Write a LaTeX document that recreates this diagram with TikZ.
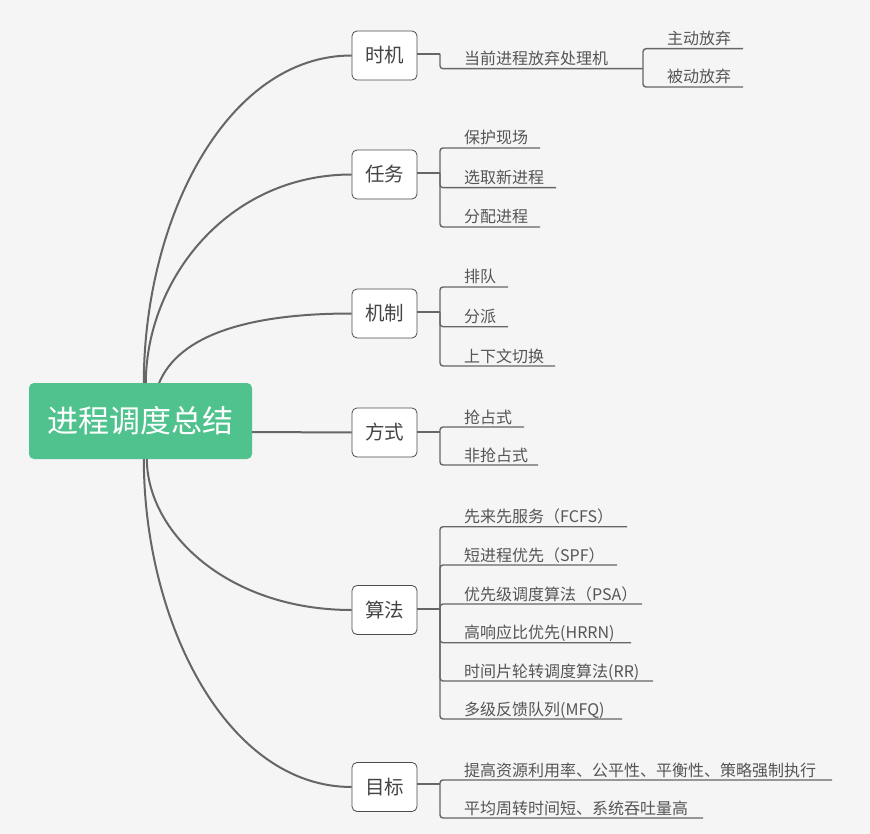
\documentclass[tikz,border=0pt]{standalone}
\usepackage{fontspec}
\setmainfont{Noto Sans CJK SC}
\usetikzlibrary{calc}
\definecolor{bgc}{HTML}{F5F5F5}
\definecolor{ln}{HTML}{666666}
\definecolor{rootg}{HTML}{50C28D}
\definecolor{txt}{HTML}{555555}
\definecolor{btxt}{HTML}{444444}
\pgfdeclarelayer{back}
\pgfsetlayers{back,main}
\begin{document}
\begin{tikzpicture}[x=1pt,y=-1pt,
  rootbox/.style={fill=rootg, rounded corners=5pt, minimum width=223pt, minimum height=76pt, text=white, font=\fontsize{31}{36}\selectfont, inner sep=0pt},
  branchbox/.style={draw=black!70, fill=white, rounded corners=5pt, minimum width=65pt, minimum height=49pt, font=\fontsize{19.5}{22}\selectfont, text=btxt, inner sep=0pt, line width=0.8pt},
  leaf/.style={anchor=base west, font=\fontsize{16}{19}\selectfont, text=txt, inner sep=0pt},
  curve/.style={draw=ln, line width=2pt},
  stub/.style={draw=ln, line width=2pt},
  lline/.style={draw=ln, line width=1.4pt, rounded corners=3pt},
]
\useasboundingbox (0,0) rectangle (870,834);

% root and branches
\node[rootbox] (root) at (140.5,421) {进程调度总结};
\node[branchbox] (b1) at (384.5,55.5) {时机};
\node[branchbox] (b2) at (384.5,174.5) {任务};
\node[branchbox] (b3) at (384.5,313.5) {机制};
\node[branchbox] (b4) at (384.5,432.5) {方式};
\node[branchbox] (b5) at (384.5,610) {算法};
\node[branchbox] (b6) at (384.5,787) {目标};

% leaf texts
\node[leaf] (t11) at (464,64.7) {当前进程放弃处理机};
\node[leaf] (t111) at (667,44.7) {主动放弃};
\node[leaf] (t112) at (667,83) {被动放弃};

\node[leaf] (t21) at (464,144) {保护现场};
\node[leaf] (t22) at (464,183.7) {选取新进程};
\node[leaf] (t23) at (464,223) {分配进程};

\node[leaf] (t31) at (464,283) {排队};
\node[leaf] (t32) at (464,322.7) {分派};
\node[leaf] (t33) at (464,362) {上下文切换};

\node[leaf] (t41) at (464,423) {抢占式};
\node[leaf] (t42) at (464,461) {非抢占式};

\node[leaf] (t51) at (464,522.7) {先来先服务（FCFS）};
\node[leaf] (t52) at (464,561) {短进程优先（SPF）};
\node[leaf] (t53) at (464,600) {优先级调度算法（PSA）};
\node[leaf] (t54) at (464,638.7) {高响应比优先(HRRN)};
\node[leaf] (t55) at (464,677) {时间片轮转调度算法(RR)};
\node[leaf] (t56) at (464,715) {多级反馈队列(MFQ)};

\node[leaf] (t61) at (464,776) {提高资源利用率、公平性、平衡性、策略强制执行};
\node[leaf] (t62) at (464,814) {平均周转时间短、系统吞吐量高};

% coordinates
\coordinate (s1) at ($(root.north west)+(115,1)$);
\coordinate (s2) at ($(root.north west)+(117,1)$);
\coordinate (s3) at ($(root.north west)+(130,1)$);
\coordinate (s4) at ($(root.east)+(-1,11)$);
\coordinate (s5) at ($(root.south west)+(118,-1)$);
\coordinate (s6) at ($(root.south west)+(115,-1)$);

\coordinate (j1) at (440,53.7);
\coordinate (j2) at (440,173);
\coordinate (j3) at (440,311.7);
\coordinate (j4) at (440,431.7);
\coordinate (j5) at (440,608.7);
\coordinate (j6) at (440,784);

\coordinate (e11) at (643,68.7);
\coordinate (e111) at (743,48.7);
\coordinate (e112) at (743,87);
\coordinate (e21) at (540,148);
\coordinate (e22) at (556,187.7);
\coordinate (e23) at (540,227);
\coordinate (e31) at (508,287);
\coordinate (e32) at (508,326.7);
\coordinate (e33) at (555,366);
\coordinate (e41) at (524,427);
\coordinate (e42) at (538,465);
\coordinate (e51) at (627,526.7);
\coordinate (e52) at (617,565);
\coordinate (e53) at (642,604);
\coordinate (e54) at (631,642.7);
\coordinate (e55) at (653,681);
\coordinate (e56) at (622,719);
\coordinate (e61) at (832,780);
\coordinate (e62) at (703,818);

\begin{pgfonlayer}{back}
\fill[bgc] (0,0) rectangle (870,834);
% main curves
\draw[curve] (s1) .. controls +(0,-165) and +(-125,0) .. (b1.west);
\draw[curve] (s2) .. controls +(0,-104) and +(-124,0) .. (b2.west);
\draw[curve] (s3) .. controls +(20,-50) and +(-100,0) .. (b3.west);
\draw[curve] (s4) -- (b4.west);
\draw[curve] (s5) .. controls +(0,75) and +(-123,0) .. (b5.west);
\draw[curve] (s6) .. controls +(0,164) and +(-125,0) .. (b6.west);
\end{pgfonlayer}

% stubs
\draw[stub] (b1.east |- j1) -- (j1);
\draw[stub] (b2.east |- j2) -- (j2);
\draw[stub] (b3.east |- j3) -- (j3);
\draw[stub] (b4.east |- j4) -- (j4);
\draw[stub] (b5.east |- j5) -- (j5);
\draw[stub] (b6.east |- j6) -- (j6);

% leaf lines
\draw[lline] (j1) |- (e11);
\draw[lline] (e11) |- (e111);
\draw[lline] (e11) |- (e112);

\draw[lline] (j2) |- (e21);
\draw[lline] (j2) |- (e22);
\draw[lline] (j2) |- (e23);

\draw[lline] (j3) |- (e31);
\draw[lline] (j3) |- (e32);
\draw[lline] (j3) |- (e33);

\draw[lline] (j4) |- (e41);
\draw[lline] (j4) |- (e42);

\draw[lline] (j5) |- (e51);
\draw[lline] (j5) |- (e52);
\draw[lline] (j5) |- (e53);
\draw[lline] (j5) |- (e54);
\draw[lline] (j5) |- (e55);
\draw[lline] (j5) |- (e56);

\draw[lline] (j6) |- (e61);
\draw[lline] (j6) |- (e62);
\end{tikzpicture}
\end{document}
